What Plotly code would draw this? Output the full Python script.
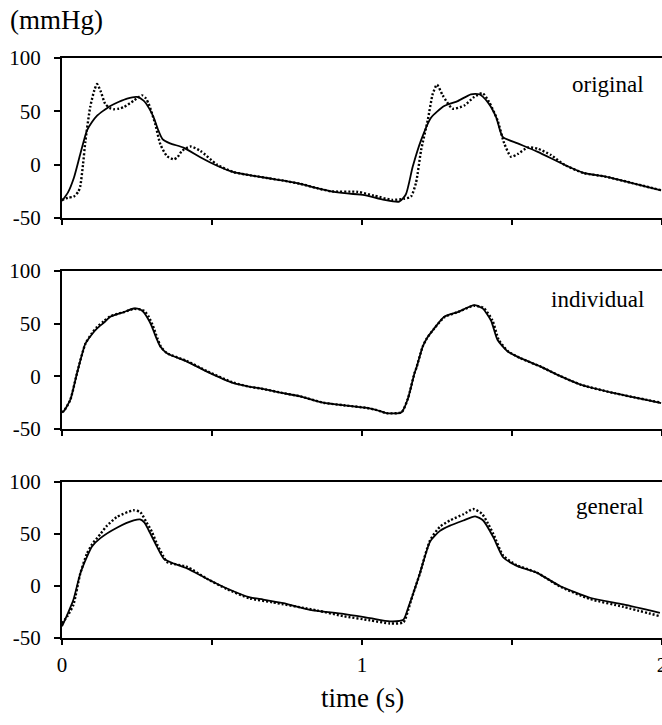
import plotly.graph_objects as go

# ---------------- data (time in s, pressure in mmHg) ----------------
orig_solid_t = [0.0, 0.02, 0.04, 0.061, 0.083, 0.1, 0.117, 0.14, 0.161, 0.19, 0.217, 0.25, 0.272, 0.29, 0.306,
                0.32, 0.335, 0.36, 0.405, 0.461, 0.517, 0.572, 0.628, 0.683, 0.739, 0.794, 0.85, 0.897, 0.95,
                1.008, 1.074, 1.124, 1.146, 1.169, 1.197, 1.23, 1.274, 1.319, 1.363, 1.391, 1.419, 1.447, 1.469,
                1.519, 1.586, 1.674, 1.741, 1.808, 1.897, 1.997]
orig_solid_v = [-34, -26, -12, 10, 32, 40, 46, 51, 55, 59, 62, 63.5, 60, 53, 44,
                33, 24, 20, 16, 7, -1, -7, -10, -12.5, -15, -18, -22, -25, -27,
                -28.5, -33, -34.6, -28, -2, 23, 44, 55, 59.6, 66, 66, 58.6, 44.6, 26,
                20, 12, 0, -8, -11, -17, -24]

orig_dot_t = [0.0, 0.02, 0.039, 0.055, 0.061, 0.07, 0.078, 0.094, 0.108, 0.117, 0.13, 0.144, 0.16, 0.172, 0.19,
              0.206, 0.239, 0.267, 0.28, 0.289, 0.3, 0.311, 0.328, 0.35, 0.372, 0.385, 0.4, 0.428, 0.461, 0.517,
              0.572, 0.628, 0.683, 0.739, 0.794, 0.85, 0.897, 0.986, 1.04, 1.1, 1.14, 1.163, 1.18, 1.197, 1.219,
              1.236, 1.25, 1.269, 1.302, 1.341, 1.374, 1.402, 1.424, 1.452, 1.474, 1.497, 1.519, 1.552, 1.586,
              1.63, 1.674, 1.741, 1.808, 1.897, 1.997]
orig_dot_v = [-33, -31, -30, -25, -20, 0, 22, 54, 70, 75.6, 68, 57, 53, 52, 52.5,
              54, 60, 65, 62, 57, 48, 38, 19, 8, 5, 7, 13, 17, 13, 0,
              -7, -10, -12.5, -15, -18, -22, -25, -25.5, -29, -33, -32, -30, -17, 13.6, 41.5,
              66.5, 75, 65, 52.5, 55.5, 63.5, 67, 58.6, 41.5, 20, 7.4, 10, 16, 15,
              9, 0, -8, -11, -17, -24]

ind_solid_t = [0.0, 0.006, 0.028, 0.05, 0.078, 0.1, 0.117, 0.14, 0.161, 0.206, 0.239, 0.26, 0.272, 0.29, 0.3,
               0.315, 0.328, 0.35, 0.417, 0.483, 0.572, 0.627, 0.661, 0.738, 0.794, 0.871, 0.94, 1.016, 1.049,
               1.082, 1.132, 1.152, 1.16, 1.175, 1.182, 1.202, 1.216, 1.241, 1.274, 1.319, 1.374, 1.402, 1.43,
               1.452, 1.486, 1.53, 1.597, 1.652, 1.73, 1.841, 1.997]
ind_solid_v = [-34, -33, -22, 3, 31, 40, 45.5, 51, 56.5, 61, 64.4, 63.5, 61, 53, 47,
               36, 28, 22, 14, 4.5, -6.5, -10, -11.5, -16, -19, -25, -27.5, -30, -32,
               -35, -34, -22, -14, 3, 8.6, 28, 36, 45.5, 56.5, 61, 67.6, 64.5, 53,
               34.5, 23.5, 17, 9, 1.4, -8, -16, -25.4]

ind_dot_t = [0.0, 0.006, 0.028, 0.05, 0.078, 0.1, 0.117, 0.14, 0.161, 0.206, 0.239, 0.26, 0.275, 0.29, 0.303,
             0.318, 0.33, 0.35, 0.417, 0.483, 0.572, 0.627, 0.661, 0.738, 0.794, 0.871, 0.94, 1.016, 1.049,
             1.082, 1.132, 1.152, 1.16, 1.175, 1.182, 1.202, 1.216, 1.241, 1.274, 1.319, 1.374, 1.405, 1.435,
             1.456, 1.488, 1.53, 1.597, 1.652, 1.73, 1.841, 1.997]
ind_dot_v = [-34, -33, -22, 3, 31, 41, 47, 52.5, 57, 61, 64, 63.5, 62, 56, 48,
             36, 28, 22, 14.5, 5, -6, -10, -11.5, -16, -19, -25, -27.5, -30, -32,
             -35, -34, -22, -14, 3, 8.6, 28, 36, 45.5, 56, 61, 67, 65, 53,
             34.5, 23.5, 17, 9, 1.4, -8, -16, -25]

gen_solid_t = [0.0, 0.02, 0.038, 0.061, 0.083, 0.1, 0.128, 0.183, 0.239, 0.26, 0.275, 0.289, 0.317, 0.339, 0.372,
               0.417, 0.483, 0.55, 0.627, 0.671, 0.738, 0.827, 0.938, 1.027, 1.093, 1.138, 1.155, 1.171, 1.193,
               1.227, 1.26, 1.293, 1.338, 1.377, 1.404, 1.438, 1.471, 1.516, 1.582, 1.66, 1.76, 1.871, 1.993]
gen_solid_v = [-38.7, -26, -13.3, 12, 28, 38, 46, 56, 63, 64, 61, 53.6, 37.6, 26.4, 21.6,
               17, 7, -2.4, -11, -13, -16.5, -22.9, -26.7, -30.9, -34, -32.5, -20, -7, 12.3,
               42.7, 53, 58, 63, 67, 63, 46.8, 27.4, 19.4, 12.9, 0, -11.3, -17.7, -25.8]

gen_dot_t = [0.0, 0.02, 0.038, 0.061, 0.083, 0.1, 0.128, 0.15, 0.183, 0.239, 0.261, 0.28, 0.3, 0.317, 0.339,
             0.35, 0.417, 0.483, 0.55, 0.627, 0.7, 0.85, 0.938, 1.027, 1.093, 1.138, 1.155, 1.171, 1.193,
             1.227, 1.26, 1.293, 1.338, 1.371, 1.4, 1.42, 1.438, 1.471, 1.516, 1.582, 1.66, 1.76, 1.871, 1.993]
gen_dot_v = [-36, -28, -18, 12, 31, 40, 50, 58, 66.4, 72.8, 71, 62, 52, 40, 28,
             23, 18.4, 7, -3, -12, -15.6, -23.5, -29, -33, -36, -35, -22, -7, 12,
             44, 57, 63, 69, 74, 69.4, 60, 50, 29, 20, 13, -0.5, -12.5, -20, -29]

panel_names = ["original", "individual", "general"]
panel_label_y = [75, 73, 76]
y_ticks = [-50, 0, 50, 100]
y_tick_text = ["-50", "0", "50", "100"]
x_ticks = [0, 0.5, 1, 1.5, 2]
x_tick_text = ["0", "", "1", "", "2"]

# ---------------- figure ----------------
W, H = 662, 725
ML, MR, MT, MB = 62, 0, 58, 87
FONT = "Liberation Serif"

fig = go.Figure()
series = [(orig_solid_t, orig_solid_v, orig_dot_t, orig_dot_v),
          (ind_solid_t, ind_solid_v, ind_dot_t, ind_dot_v),
          (gen_solid_t, gen_solid_v, gen_dot_t, gen_dot_v)]
for i, (st, sv, dt, dv) in enumerate(series):
    ax = "" if i == 0 else str(i + 1)
    fig.add_trace(go.Scatter(x=dt, y=dv, mode="lines", xaxis="x" + ax, yaxis="y" + ax,
                             line=dict(color="black", width=2.4, dash="2px,2px", shape="spline", smoothing=0.6),
                             showlegend=False, hoverinfo="skip"))
    fig.add_trace(go.Scatter(x=st, y=sv, mode="lines", xaxis="x" + ax, yaxis="y" + ax,
                             line=dict(color="black", width=1.8, shape="spline", smoothing=0.6),
                             showlegend=False, hoverinfo="skip"))

plot_h = H - MT - MB
panel_px = [(58, 218), (271, 429), (482, 638)]
layout = dict(width=W, height=H, margin=dict(l=ML, r=MR, t=MT, b=MB, autoexpand=False),
              paper_bgcolor="white", plot_bgcolor="white",
              font=dict(family=FONT, size=21, color="black"), annotations=[])

for i, (top, bot) in enumerate(panel_px):
    ax = "" if i == 0 else str(i + 1)
    d0 = (H - MB - bot) / plot_h
    d1 = (H - MB - top) / plot_h
    last = (i == 2)
    layout["xaxis" + ax] = dict(domain=[0, 1], range=[0, 2], anchor="y" + ax, automargin=False,
                                tickvals=x_ticks, ticktext=x_tick_text if last else [""] * 5,
                                showticklabels=last, ticks="outside", ticklen=5, tickwidth=1.5,
                                tickcolor="black", showline=True, linecolor="black", linewidth=2,
                                mirror=True, showgrid=False, zeroline=False,
                                tickfont=dict(family=FONT, size=21), ticklabelstandoff=2,
                                ticklabeloverflow="allow")
    layout["yaxis" + ax] = dict(domain=[d0, d1], range=[-50, 100], anchor="x" + ax, automargin=False,
                                tickvals=y_ticks, ticktext=y_tick_text, ticks="outside", ticklen=6,
                                tickwidth=1.5, tickcolor="black", showline=True, linecolor="black",
                                linewidth=2, showgrid=False, zeroline=False,
                                tickfont=dict(family=FONT, size=21), ticklabelstandoff=9,
                                ticklabeloverflow="allow")
    layout["annotations"].append(dict(text=panel_names[i], x=1.947, y=panel_label_y[i],
                                      xref="x" + ax, yref="y" + ax, xanchor="right", yanchor="middle",
                                      showarrow=False, font=dict(family=FONT, size=23)))

layout["annotations"].append(dict(text="(mmHg)", x=(8 - ML) / (W - ML - MR), y=(H - MB - 20) / plot_h,
                                  xref="paper", yref="paper", xanchor="left", yanchor="middle",
                                  showarrow=False, font=dict(family=FONT, size=27)))
layout["annotations"].append(dict(text="time (s)", x=(362 - ML) / (W - ML - MR), y=(H - MB - 698) / plot_h,
                                  xref="paper", yref="paper", xanchor="center", yanchor="middle",
                                  showarrow=False, font=dict(family=FONT, size=27)))

fig.update_layout(**layout)
fig.write_html("out.html")
